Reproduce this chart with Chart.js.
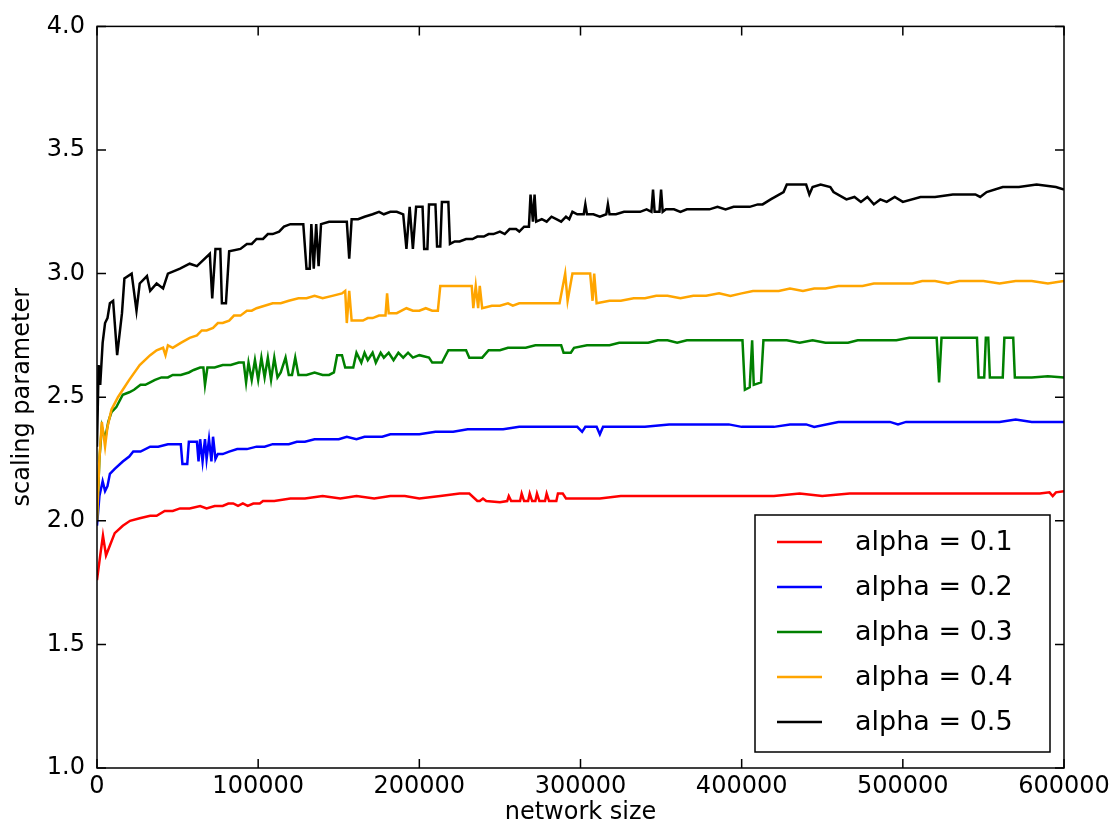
<!DOCTYPE html>
<html>
<head>
<meta charset="utf-8">
<script src="https://cdn.jsdelivr.net/npm/chart.js@4/dist/chart.umd.min.js"></script>
<style>
  html, body { margin: 0; padding: 0; background: #fff; }
</style>
</head>
<body>
<canvas id="grafico" width="1119" height="831"></canvas>
<script>
// scaling parameter vs network size, one series per alpha
const etiquetas = ['alpha = 0.1', 'alpha = 0.2', 'alpha = 0.3', 'alpha = 0.4', 'alpha = 0.5']
const colores = ['#ff0000', '#0000ff', '#008000', '#ffa500', '#000000']

const xTicks = [0, 100000, 200000, 300000, 400000, 500000, 600000]
const yTicks = [1.0, 1.5, 2.0, 2.5, 3.0, 3.5, 4.0]

const alpha01 = [[0,1.76],[2000,1.86],[3700,1.94],[5600,1.86],[8000,1.90],[11000,1.95],[16000,1.98],[20500,2.00],
  [26500,2.01],[33000,2.02],[37000,2.02],[42000,2.04],[47000,2.04],[51500,2.05],[57500,2.05],[64000,2.06],
  [68000,2.05],[73000,2.06],[78000,2.06],[81500,2.07],[84500,2.07],[87500,2.06],[90500,2.07],[93500,2.06],
  [97000,2.07],[101000,2.07],[103000,2.08],[110000,2.08],[120000,2.09],[129000,2.09],[140000,2.10],[151000,2.09],
  [161000,2.10],[172000,2.09],[182000,2.10],[191000,2.10],[200000,2.09],[213000,2.10],[225000,2.11],[231000,2.11],
  [236000,2.08],[237500,2.08],[239500,2.09],[241500,2.08],[250000,2.075],[254500,2.08],[255500,2.10],[257000,2.08],
  [262500,2.08],[263500,2.11],[265000,2.08],[267500,2.08],[268500,2.11],[270000,2.08],[272000,2.08],[273000,2.11],
  [274500,2.08],[278000,2.08],[279000,2.11],[280500,2.08],[285000,2.08],[286000,2.11],[289000,2.11],[291000,2.09],
  [300000,2.09],[312000,2.09],[325000,2.10],[343000,2.10],[360000,2.10],[374000,2.10],[390000,2.10],[405000,2.10],
  [420000,2.10],[436000,2.11],[450000,2.10],[467000,2.11],[483000,2.11],[498000,2.11],[515000,2.11],[529000,2.11],
  [545000,2.11],[560000,2.11],[575000,2.11],[585000,2.11],[591000,2.115],[593000,2.10],[595000,2.115],[600000,2.12]]

const alpha02 = [[0,1.98],[1500,2.10],[3500,2.16],[5000,2.12],[6500,2.14],[8000,2.19],[11000,2.21],[16000,2.24],
  [20000,2.26],[22500,2.28],[27000,2.28],[33000,2.30],[38000,2.30],[44000,2.31],[50000,2.31],[52000,2.31],
  [53000,2.23],[56000,2.23],[57000,2.32],[62000,2.32],[63000,2.24],[64000,2.33],[65500,2.24],[67000,2.33],
  [68000,2.25],[69500,2.33],[71000,2.24],[72000,2.34],[73500,2.25],[75000,2.27],[78000,2.27],[82000,2.28],
  [87000,2.29],[93000,2.29],[99000,2.30],[104000,2.30],[109000,2.31],[114000,2.31],[119000,2.31],[124000,2.32],
  [129000,2.32],[135000,2.33],[140000,2.33],[145000,2.33],[150000,2.33],[155000,2.34],[161000,2.33],[166000,2.34],
  [172000,2.34],[177000,2.34],[182000,2.35],[190000,2.35],[200000,2.35],[210000,2.36],[221000,2.36],[230000,2.37],
  [240000,2.37],[252000,2.37],[262000,2.38],[275000,2.38],[285000,2.38],[298000,2.38],[301000,2.36],[303000,2.38],
  [310000,2.38],[312000,2.35],[314000,2.38],[325000,2.38],[340000,2.38],[355000,2.39],[374000,2.39],[392000,2.39],
  [400000,2.38],[405000,2.38],[420000,2.38],[430000,2.39],[440000,2.39],[445000,2.38],[460000,2.40],[480000,2.40],
  [492000,2.40],[497000,2.39],[502000,2.40],[515000,2.40],[530000,2.40],[545000,2.40],[560000,2.40],[570000,2.41],
  [580000,2.40],[590000,2.40],[600000,2.40]]

const alpha03 = [[0,2.00],[1500,2.25],[3000,2.38],[5000,2.33],[7000,2.40],[9000,2.44],[12000,2.46],[16000,2.51],
  [20000,2.52],[23000,2.53],[27000,2.55],[30000,2.55],[33000,2.56],[36000,2.57],[40000,2.58],[44000,2.58],
  [47000,2.59],[52000,2.59],[57000,2.60],[60000,2.61],[64000,2.62],[66000,2.62],[67000,2.55],[68500,2.62],
  [73000,2.62],[78000,2.63],[83000,2.63],[88000,2.64],[91000,2.64],[92500,2.56],[94000,2.64],[96000,2.57],
  [98000,2.65],[100000,2.57],[102000,2.66],[104000,2.58],[106000,2.66],[108000,2.57],[110000,2.66],[112000,2.58],
  [114000,2.60],[117000,2.66],[119000,2.59],[121000,2.59],[123000,2.66],[125000,2.59],[130000,2.59],[135000,2.60],
  [140000,2.59],[144000,2.59],[147000,2.60],[149000,2.67],[152000,2.67],[154000,2.62],[159000,2.62],[161000,2.68],
  [164000,2.64],[166000,2.68],[168000,2.65],[171000,2.68],[173000,2.64],[176000,2.68],[178000,2.66],[181000,2.68],
  [184000,2.65],[187000,2.68],[190000,2.66],[193000,2.68],[196000,2.66],[200000,2.67],[206000,2.66],[208000,2.64],
  [214000,2.64],[218000,2.69],[229000,2.69],[231000,2.66],[239000,2.66],[243000,2.69],[250000,2.69],[255000,2.70],
  [260000,2.70],[266000,2.70],[272000,2.71],[281000,2.71],[288000,2.71],[289500,2.68],[294000,2.68],[296000,2.70],
  [304000,2.71],[312000,2.71],[318000,2.71],[324000,2.72],[330000,2.72],[336000,2.72],[342000,2.72],[348000,2.73],
  [354000,2.73],[360000,2.72],[366000,2.73],[372000,2.73],[378000,2.73],[384000,2.73],[390000,2.73],[396000,2.73],
  [400500,2.73],[402000,2.53],[405000,2.54],[406500,2.73],[407500,2.55],[412000,2.56],[413500,2.73],[420000,2.73],
  [428000,2.73],[436000,2.72],[444000,2.73],[452000,2.72],[460000,2.72],[466000,2.72],[472000,2.73],[480000,2.73],
  [488000,2.73],[496000,2.73],[504000,2.74],[511000,2.74],[516000,2.74],[521000,2.74],[522500,2.56],[524000,2.74],
  [532000,2.74],[540000,2.74],[546000,2.74],[547000,2.58],[550500,2.58],[551500,2.74],[553000,2.74],[554000,2.58],
  [562000,2.58],[563000,2.74],[568500,2.74],[569500,2.58],[580000,2.58],[590000,2.585],[600000,2.58]]

const alpha04 = [[0,2.00],[1500,2.25],[3000,2.40],[5000,2.30],[6500,2.38],[9000,2.45],[13000,2.50],[16000,2.53],
  [20000,2.57],[26500,2.63],[33000,2.67],[37000,2.69],[41000,2.70],[42500,2.67],[44000,2.71],[47000,2.70],
  [52000,2.72],[57500,2.74],[62000,2.75],[65000,2.77],[68000,2.77],[72000,2.78],[75000,2.80],[78000,2.80],
  [82000,2.81],[85000,2.83],[89000,2.83],[93000,2.85],[96000,2.85],[99000,2.86],[104000,2.87],[109000,2.88],
  [114000,2.88],[119000,2.89],[125000,2.90],[130000,2.90],[135000,2.91],[140000,2.90],[146000,2.91],[152000,2.92],
  [154000,2.93],[155000,2.80],[156500,2.93],[158000,2.81],[161000,2.81],[165000,2.81],[168000,2.82],[171000,2.82],
  [175000,2.83],[179000,2.83],[180000,2.92],[181000,2.84],[186000,2.84],[189000,2.85],[192000,2.86],[196000,2.85],
  [200000,2.85],[204000,2.86],[208000,2.85],[211500,2.85],[213000,2.95],[222000,2.95],[232500,2.95],[233500,2.86],
  [235000,2.95],[236500,2.86],[237500,2.95],[239000,2.86],[245000,2.87],[250000,2.87],[255000,2.88],[258000,2.87],
  [262000,2.88],[268000,2.88],[274000,2.88],[280000,2.88],[287000,2.88],[290500,3.00],[292000,2.89],[295000,3.00],
  [306000,3.00],[307500,2.89],[308500,3.00],[310000,2.88],[318000,2.89],[325000,2.89],[333000,2.90],[340000,2.90],
  [347000,2.91],[354000,2.91],[362000,2.90],[370000,2.91],[378000,2.91],[386000,2.92],[393000,2.91],[400000,2.92],
  [407000,2.93],[415000,2.93],[423000,2.93],[430000,2.94],[438000,2.93],[445000,2.94],[452000,2.94],[460000,2.95],
  [468000,2.95],[475000,2.95],[482000,2.96],[490000,2.96],[498000,2.96],[506000,2.96],[512000,2.97],[520000,2.97],
  [528000,2.96],[535000,2.97],[542000,2.97],[550000,2.97],[560000,2.96],[570000,2.97],[580000,2.97],[590000,2.96],
  [600000,2.97]]

const alpha05 = [[0,2.30],[1000,2.63],[2000,2.55],[3500,2.72],[5000,2.80],[6500,2.82],[8000,2.88],[10000,2.89],
  [12500,2.67],[15500,2.84],[17000,2.98],[21500,3.00],[24500,2.85],[26500,2.96],[31000,2.99],[33000,2.93],
  [37000,2.96],[41000,2.94],[44000,3.00],[51500,3.02],[57500,3.04],[62000,3.03],[70000,3.08],[71500,2.90],
  [73500,3.10],[76500,3.10],[77500,2.88],[80000,2.88],[82000,3.09],[89000,3.10],[93000,3.12],[96000,3.12],
  [99000,3.14],[103000,3.14],[106000,3.16],[109000,3.16],[113000,3.17],[116000,3.19],[120000,3.20],[124000,3.20],
  [128000,3.20],[130000,3.02],[132000,3.02],[133000,3.20],[134500,3.02],[136000,3.20],[137500,3.03],[139000,3.20],
  [144000,3.21],[150000,3.21],[155000,3.21],[156500,3.06],[158000,3.22],[162000,3.22],[166000,3.23],[171000,3.24],
  [175000,3.25],[178000,3.24],[182000,3.25],[186000,3.25],[190000,3.24],[192000,3.10],[194000,3.27],[196000,3.10],
  [198000,3.27],[202000,3.27],[203000,3.10],[205000,3.10],[206000,3.28],[210000,3.28],[211000,3.11],[213000,3.11],
  [214000,3.29],[218000,3.29],[219000,3.12],[222000,3.13],[225000,3.13],[229000,3.14],[233000,3.14],[236000,3.15],
  [240000,3.15],[243000,3.16],[246000,3.16],[250000,3.17],[253000,3.16],[256000,3.18],[260000,3.18],[262000,3.17],
  [265000,3.19],[268000,3.19],[269000,3.32],[270500,3.21],[271500,3.32],[272500,3.21],[276000,3.22],[279000,3.21],
  [282000,3.23],[285000,3.22],[288000,3.21],[291000,3.23],[293000,3.22],[295000,3.25],[298000,3.24],[302000,3.24],
  [303000,3.28],[304000,3.24],[308000,3.24],[312000,3.23],[316000,3.24],[317000,3.28],[318000,3.24],[322000,3.24],
  [327000,3.25],[332000,3.25],[337000,3.25],[341000,3.26],[344000,3.25],[345000,3.34],[346000,3.25],[349000,3.25],
  [350000,3.34],[351000,3.25],[353000,3.26],[358000,3.26],[362000,3.25],[366000,3.26],[370000,3.26],[375000,3.26],
  [380000,3.26],[385000,3.27],[390000,3.26],[395000,3.27],[400000,3.27],[405000,3.27],[410000,3.28],[413000,3.28],
  [418000,3.30],[426000,3.33],[428000,3.36],[440000,3.36],[442000,3.32],[444000,3.35],[449000,3.36],[455000,3.35],
  [457000,3.33],[465000,3.30],[470000,3.31],[474000,3.29],[478000,3.31],[482000,3.28],[486000,3.30],[490000,3.29],
  [495000,3.31],[500000,3.29],[511000,3.31],[520000,3.31],[531000,3.32],[545000,3.32],[548000,3.31],[552000,3.33],
  [562000,3.35],[572000,3.35],[583000,3.36],[595000,3.35],[600000,3.34]]

const series = [alpha01, alpha02, alpha03, alpha04, alpha05]

const fuente = 'DejaVu Sans'

// ticks hacia adentro + marco, estilo matplotlib
const marco = {
  id: 'marco',
  afterDatasetsDraw(chart) {
    const { ctx, chartArea: a, scales } = chart
    const largo = 9
    ctx.save()
    ctx.strokeStyle = '#000'
    ctx.lineWidth = 1.5
    ctx.beginPath()
    xTicks.forEach(v => {
      const px = scales.x.getPixelForValue(v)
      ctx.moveTo(px, a.bottom); ctx.lineTo(px, a.bottom - largo)
      ctx.moveTo(px, a.top); ctx.lineTo(px, a.top + largo)
    })
    yTicks.forEach(v => {
      const py = scales.y.getPixelForValue(v)
      ctx.moveTo(a.left, py); ctx.lineTo(a.left + largo, py)
      ctx.moveTo(a.right, py); ctx.lineTo(a.right - largo, py)
    })
    ctx.stroke()
    ctx.strokeRect(a.left, a.top, a.right - a.left, a.bottom - a.top)
    ctx.restore()
  }
}

// leyenda abajo a la derecha dentro del area
const leyenda = {
  id: 'leyenda',
  afterDraw(chart) {
    const { ctx, chartArea: a } = chart
    const ancho = 295, alto = 237
    const x0 = a.right - 14 - ancho
    const y0 = a.bottom - 16 - alto
    ctx.save()
    ctx.fillStyle = '#fff'
    ctx.fillRect(x0, y0, ancho, alto)
    ctx.strokeStyle = '#000'
    ctx.lineWidth = 1.5
    ctx.strokeRect(x0, y0, ancho, alto)
    ctx.font = '27px "' + fuente + '"'
    ctx.textBaseline = 'middle'
    chart.data.datasets.forEach((ds, i) => {
      const y = y0 + 27 + i * 45
      ctx.strokeStyle = ds.borderColor
      ctx.lineWidth = 2.5
      ctx.beginPath()
      ctx.moveTo(x0 + 22, y); ctx.lineTo(x0 + 67, y)
      ctx.stroke()
      ctx.fillStyle = '#000'
      ctx.fillText(ds.label, x0 + 100, y + 1)
    })
    ctx.restore()
  }
}

const ctx = document.getElementById('grafico')

new Chart(ctx, {
  type: 'line',
  data: {
    datasets: series.map((s, i) => ({
      label: etiquetas[i],
      data: s.map(p => ({ x: p[0], y: p[1] })),
      borderColor: colores[i],
      borderWidth: 2.5,
      pointRadius: 0,
      tension: 0,
      fill: false,
      order: 5 - i
    }))
  },
  options: {
    responsive: false,
    animation: false,
    layout: { padding: { top: 15, right: 55, left: 0, bottom: 0 } },
    plugins: {
      legend: { display: false },
      tooltip: { enabled: false }
    },
    scales: {
      x: {
        type: 'linear',
        min: 0,
        max: 600000,
        afterBuildTicks: s => { s.ticks = xTicks.map(v => ({ value: v })) },
        afterFit: s => { s.height = 63 },
        grid: { display: false, drawTicks: false },
        border: { display: false },
        ticks: {
          padding: 4,
          color: '#000',
          maxRotation: 0,
          font: { family: fuente, size: 24 },
          callback: v => String(v)
        },
        title: {
          display: true,
          text: 'network size',
          color: '#000',
          padding: { top: 0, bottom: 4 },
          font: { family: fuente, size: 24 }
        }
      },
      y: {
        min: 1,
        max: 4,
        afterBuildTicks: s => { s.ticks = yTicks.map(v => ({ value: v })) },
        afterFit: s => { s.width = 97 },
        grid: { display: false, drawTicks: false },
        border: { display: false },
        ticks: {
          padding: 12,
          color: '#000',
          font: { family: fuente, size: 24 },
          callback: v => v.toFixed(1)
        },
        title: {
          display: true,
          text: 'scaling parameter',
          color: '#000',
          padding: { top: 8, bottom: 0 },
          font: { family: fuente, size: 24 }
        }
      }
    }
  },
  plugins: [marco, leyenda]
})
</script>
</body>
</html>
